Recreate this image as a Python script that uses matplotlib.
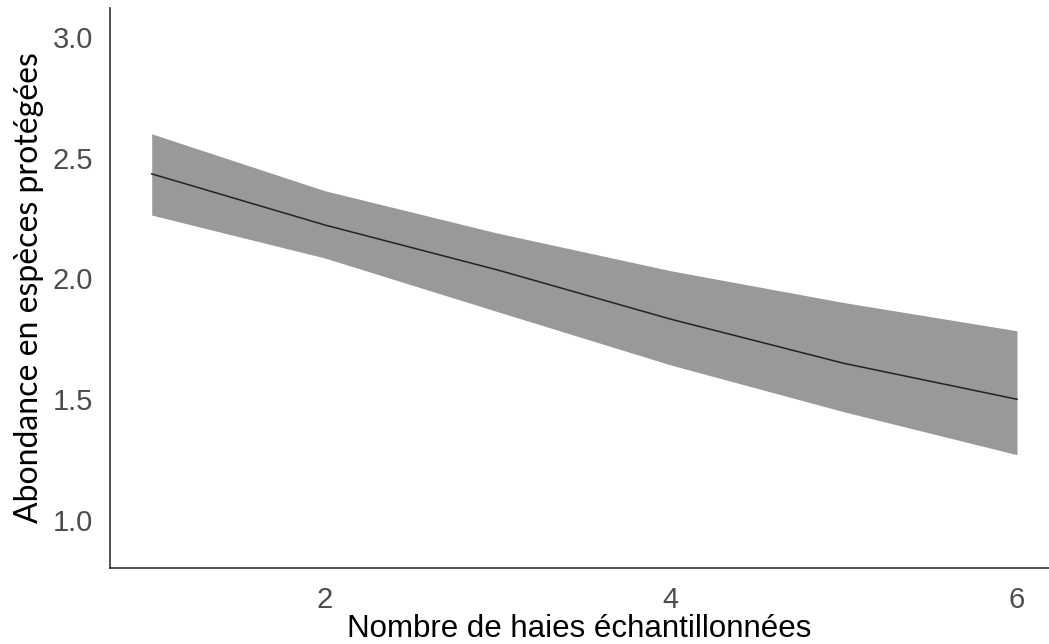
import matplotlib
matplotlib.use("Agg")
import matplotlib.pyplot as plt

# Data
x_vals = [1, 2, 3, 4, 5, 6]
fit = [2.434, 2.222, 2.035, 1.831, 1.648, 1.499]
upper = [2.600, 2.364, 2.188, 2.032, 1.900, 1.783]
lower = [2.263, 2.085, 1.862, 1.641, 1.447, 1.269]

x_ticks = [2, 4, 6]
y_ticks = [1.0, 1.5, 2.0, 2.5, 3.0]
y_ticklabels = ["1.0", "1.5", "2.0", "2.5", "3.0"]

fig = plt.figure(figsize=(10.49, 6.44), dpi=100)
ax = fig.add_axes([110 / 1049, 76 / 644, (1049 - 110) / 1049, (568 - 8) / 644])

ax.fill_between(x_vals, lower, upper, color="#999999", linewidth=0)
ax.plot(x_vals, fit, color="#222222", linewidth=1.1)

ax.set_xlim(0.759, 6.185)
ax.set_ylim(0.799, 3.122)

ax.set_xticks(x_ticks)
ax.set_xticklabels([str(t) for t in x_ticks])
ax.set_yticks(y_ticks)
ax.set_yticklabels(y_ticklabels)

for s in ["top", "right"]:
    ax.spines[s].set_visible(False)
for s in ["left", "bottom"]:
    ax.spines[s].set_color("#333333")
    ax.spines[s].set_linewidth(1.2)

ax.tick_params(axis="both", length=0, labelsize=21, labelcolor="#4d4d4d")
ax.tick_params(axis="y", pad=12)
ax.tick_params(axis="x", pad=13)
for lab in ax.get_xticklabels() + ax.get_yticklabels():
    lab.set_family(["Liberation Sans", "DejaVu Sans"])

ax.set_xlabel("Nombre de haies échantillonnées", fontsize=22.5,
              family=["Liberation Sans", "DejaVu Sans"],
              color="black", labelpad=0)
ax.set_ylabel("Abondance en espèces protégées", fontsize=23,
              family=["Lato", "DejaVu Sans"], color="black", labelpad=6)

fig.savefig("out.png", dpi=100, facecolor="white")
